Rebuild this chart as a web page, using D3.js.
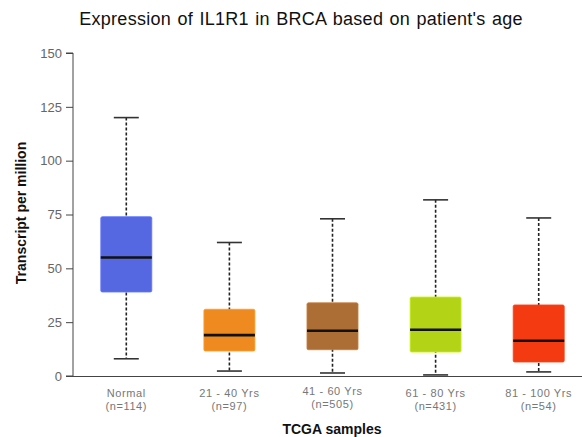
<!DOCTYPE html>
<html>
<head>
<meta charset="utf-8">
<script src="https://cdn.jsdelivr.net/npm/d3@7"></script>
<style>
  body { margin: 0; background: #fff; }
  text { font-family: "Liberation Sans", Arial, sans-serif; }
</style>
</head>
<body>
<script>
// chart data
var groups = ["Normal", "21 - 40 Yrs", "41 - 60 Yrs", "61 - 80 Yrs", "81 - 100 Yrs"];
var counts = ["(n=114)", "(n=97)", "(n=505)", "(n=431)", "(n=54)"];
var whiskerLow = [8, 2.3, 1.4, 0.5, 1.9];
var q1 = [39, 11.6, 12.2, 11.1, 6.5];
var medians = [55, 19, 21, 21.5, 16.4];
var q3 = [74, 31, 34, 36.7, 33];
var whiskerHigh = [120, 62, 73, 81.8, 73.4];
var colors = ["#5568e2", "#ef8a21", "#ad6e36", "#b3d416", "#f33a11"];
var yTicks = [0, 25, 50, 75, 100, 125, 150];

var width = 582,
    height = 437;
var margin = {top: 53, right: 0, bottom: 61, left: 73};

var svg = d3.select("body").append("svg")
    .attr("width", width)
    .attr("height", height);

var x = d3.scaleBand()
    .domain(groups)
    .range([75, 590])
    .paddingInner(0.505)
    .paddingOuter(0.25);

var y = d3.scaleLinear()
    .domain([0, 150])
    .range([height - margin.bottom, margin.top]);

svg.append("text")
    .attr("x", 301)
    .attr("y", 25)
    .attr("text-anchor", "middle")
    .style("font-size", "18px")
    .style("letter-spacing", "0.3px")
    .style("word-spacing", "1px")
    .style("fill", "#111")
    .text("Expression of IL1R1 in BRCA based on patient's age");

// y axis
var yAxis = svg.append("g")
    .attr("transform", "translate(" + margin.left + ",0)")
    .call(d3.axisLeft(y).tickValues(yTicks).tickSize(7).tickPadding(4));
yAxis.select(".domain").attr("stroke", "#444").attr("d", "M-7," + y(150) + "H0V" + y(0) + "H-7");
yAxis.selectAll(".tick line").attr("stroke", "#444");
yAxis.selectAll(".tick text")
    .style("font-size", "13px")
    .style("fill", "#666");

// x axis line
svg.append("line")
    .attr("x1", margin.left)
    .attr("x2", width)
    .attr("y1", y(0) + 0.5)
    .attr("y2", y(0) + 0.5)
    .attr("stroke", "#444")
    .attr("stroke-width", 1.2);

var data = groups.map(function(g, i) {
    return {name: g, n: counts[i], lo: whiskerLow[i], q1: q1[i], med: medians[i], q3: q3[i], hi: whiskerHigh[i], color: colors[i]};
});

var box = svg.selectAll(".box")
    .data(data)
    .enter()
    .append("g")
    .attr("class", "box");

var cx = function(d) { return x(d.name) + x.bandwidth() / 2; };

// dashed whiskers
box.append("line")
    .attr("x1", cx).attr("x2", cx)
    .attr("y1", function(d) { return y(d.hi); })
    .attr("y2", function(d) { return y(d.lo); })
    .attr("stroke", "#222")
    .attr("stroke-width", 1.6)
    .attr("stroke-dasharray", "3,2");

// caps
["hi", "lo"].forEach(function(k) {
    box.append("line")
        .attr("x1", function(d) { return cx(d) - 12.5; })
        .attr("x2", function(d) { return cx(d) + 12.5; })
        .attr("y1", function(d) { return y(d[k]); })
        .attr("y2", function(d) { return y(d[k]); })
        .attr("stroke", "#333")
        .attr("stroke-width", 1.6);
});

box.append("rect")
    .attr("x", function(d) { return x(d.name); })
    .attr("width", x.bandwidth())
    .attr("y", function(d) { return y(d.q3); })
    .attr("height", function(d) { return y(d.q1) - y(d.q3); })
    .attr("rx", 1.5)
    .attr("fill", function(d) { return d.color; })
    .attr("stroke", function(d) { return d3.color(d.color).brighter(0.4); })
    .attr("stroke-width", 0.8);

box.append("line")
    .attr("x1", function(d) { return x(d.name); })
    .attr("x2", function(d) { return x(d.name) + x.bandwidth(); })
    .attr("y1", function(d) { return y(d.med); })
    .attr("y2", function(d) { return y(d.med); })
    .attr("stroke", "#111")
    .attr("stroke-width", 2.6);

// category labels
var lab = box.append("text")
    .attr("text-anchor", "middle")
    .style("font-size", "11px")
    .style("fill", "#777")
    .style("letter-spacing", "0.6px");
lab.append("tspan")
    .attr("x", cx)
    .attr("y", function(d, i) { return i == 2 ? 395 : 397; })
    .text(function(d) { return d.name; });
lab.append("tspan")
    .attr("x", cx)
    .attr("y", function(d, i) { return i == 2 ? 408 : 410; })
    .text(function(d) { return d.n; });

svg.append("text")
    .attr("x", 332)
    .attr("y", 434)
    .attr("text-anchor", "middle")
    .style("font-size", "14px")
    .style("font-weight", "bold")
    .style("fill", "#111")
    .text("TCGA samples");

svg.append("text")
    .attr("transform", "translate(26," + 213 + ") rotate(-90)")
    .attr("text-anchor", "middle")
    .style("font-size", "14px")
    .style("font-weight", "bold")
    .style("fill", "#111")
    .text("Transcript per million");
</script>
</body>
</html>
